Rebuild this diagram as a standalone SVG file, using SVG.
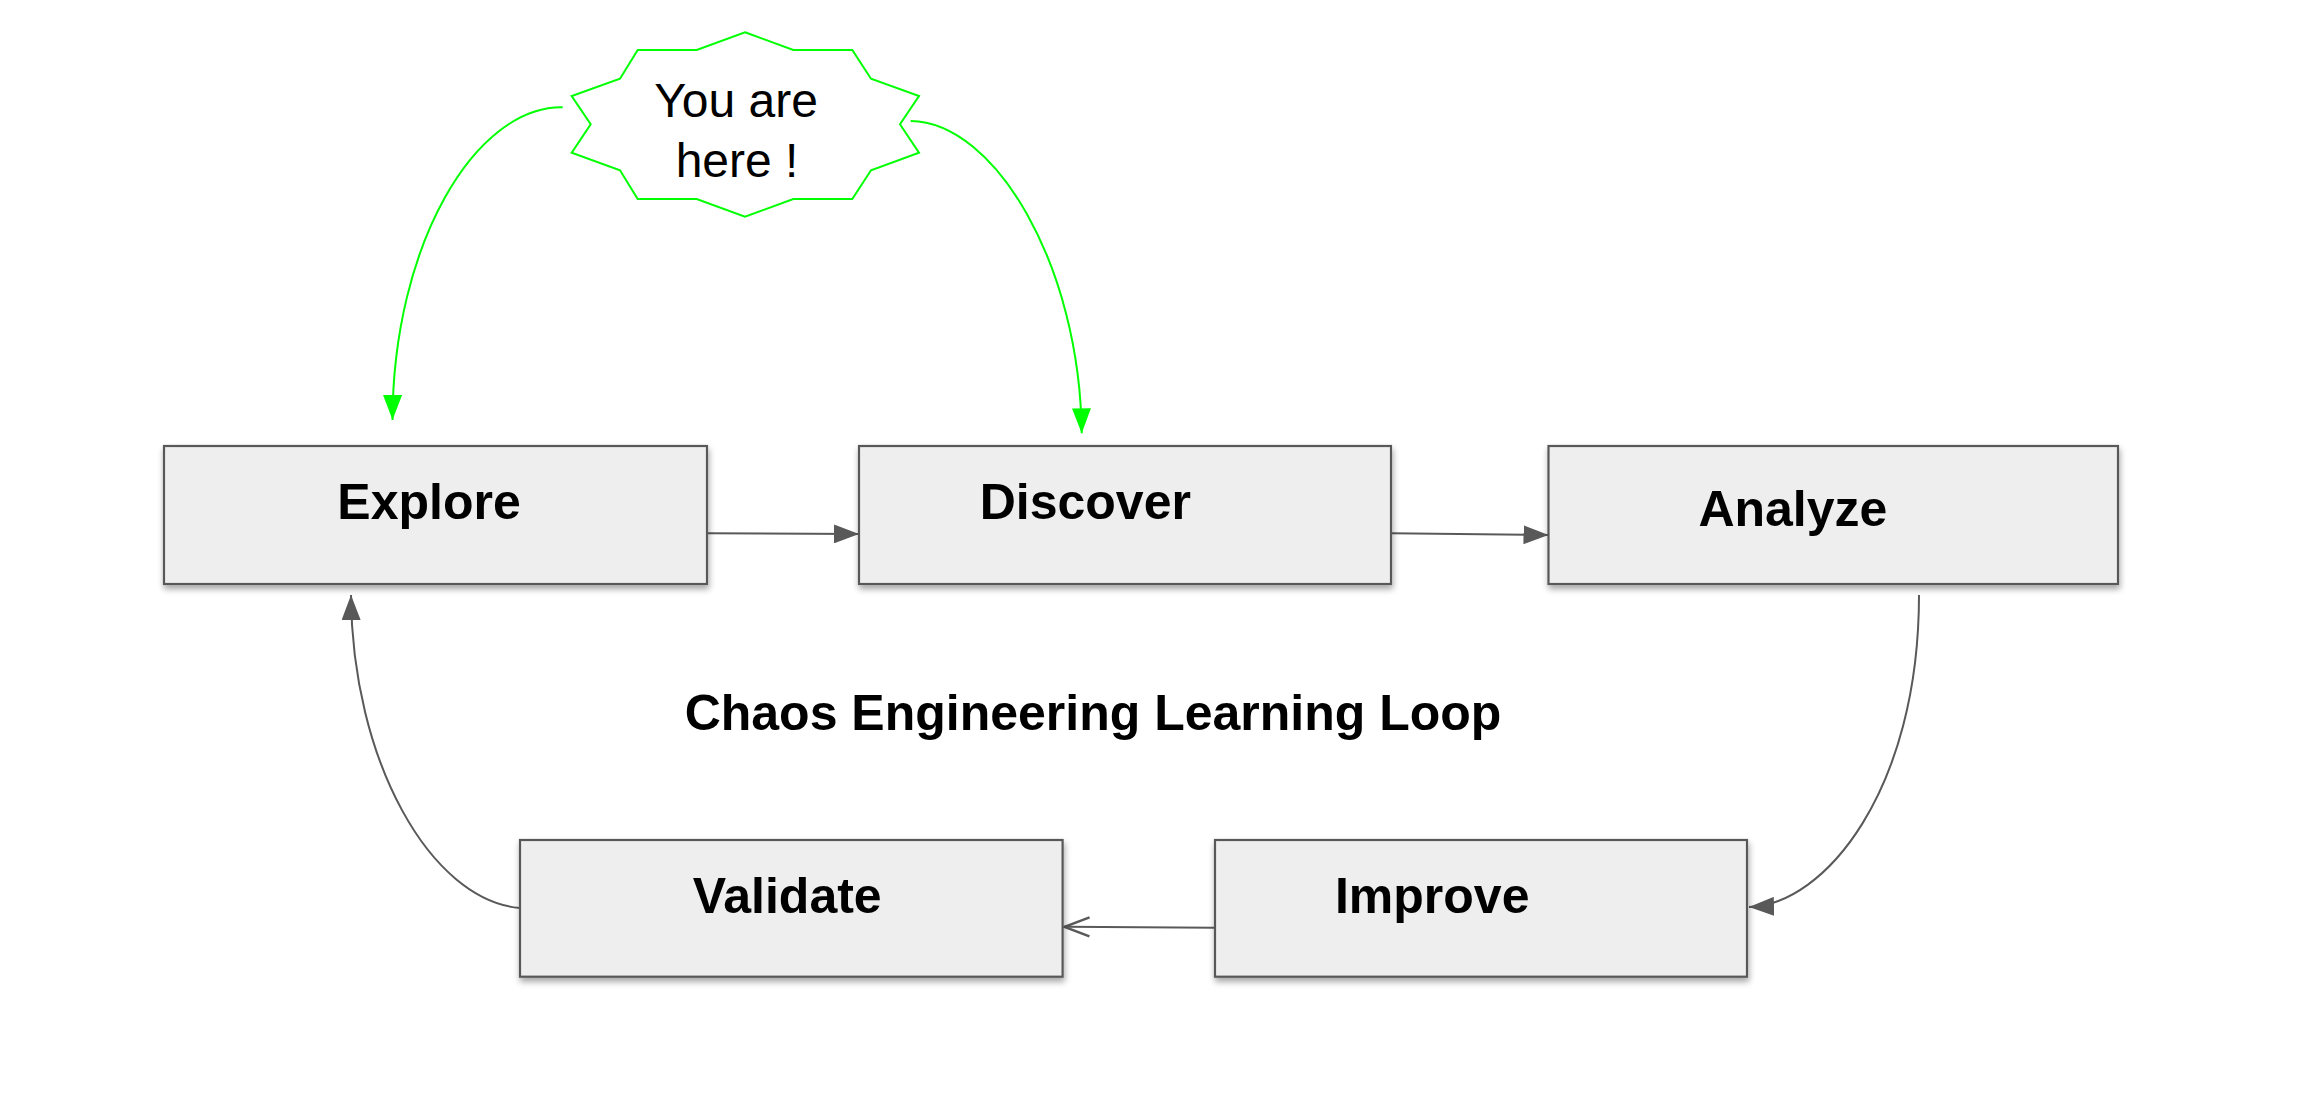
<svg xmlns="http://www.w3.org/2000/svg" width="2310" height="1109" viewBox="0 0 2310 1109">
  <style>
    .box { fill: #eeeeee; stroke: #595959; stroke-width: 2.2; filter: url(#shadow); }
    .label { font-family: "Liberation Sans", Arial, sans-serif; font-weight: bold; font-size: 50px; fill: #000000; text-anchor: middle; }
    .burst-text { font-family: "Liberation Sans", Arial, sans-serif; font-size: 48px; fill: #000000; text-anchor: middle; }
    .conn { fill: none; stroke: #595959; stroke-width: 2; }
    .green { fill: none; stroke: #00ff00; stroke-width: 2; }
  </style>
  <defs>
    <filter id="shadow" x="-5%" y="-10%" width="115%" height="130%">
      <feDropShadow dx="1" dy="4" stdDeviation="3" flood-color="#000000" flood-opacity="0.35"/>
    </filter>
    <marker id="arrowGray" viewBox="0 0 25 19" refX="25" refY="9.5" markerWidth="25" markerHeight="19" markerUnits="userSpaceOnUse" orient="auto">
      <path d="M0,0 L25,9.5 L0,19 Z" fill="#595959"/>
    </marker>
    <marker id="arrowOpen" viewBox="-2 -2 29 23" refX="25" refY="9.5" markerWidth="29" markerHeight="23" markerUnits="userSpaceOnUse" orient="auto">
      <path d="M0,0 L25,9.5 L0,19" fill="none" stroke="#595959" stroke-width="2.5"/>
    </marker>
    <marker id="arrowGreen" viewBox="0 0 25 19" refX="25" refY="9.5" markerWidth="25" markerHeight="19" markerUnits="userSpaceOnUse" orient="auto">
      <path d="M0,0 L25,9.5 L0,19 Z" fill="#00ff00"/>
    </marker>
  </defs>

  <rect width="2310" height="1109" fill="#ffffff"/>

  <g id="connectors">
    <path class="conn" d="M707,533.3 L859,534" marker-end="url(#arrowGray)"/>
    <path class="conn" d="M1391,533.3 L1548.5,535" marker-end="url(#arrowGray)"/>
    <path class="conn" d="M1919,595 C1919,790 1825,905 1749,907" marker-end="url(#arrowGray)"/>
    <path class="conn" d="M1215,927.7 L1064.5,926.8" marker-end="url(#arrowOpen)"/>
    <path class="conn" d="M520,908 C430,900 352,760 351,595" marker-end="url(#arrowGray)"/>
    <path class="green" d="M562.7,107.3 C475,106 393,245 392.5,420" marker-end="url(#arrowGreen)"/>
    <path class="green" d="M910.7,121 C995,122 1080,265 1081.7,433.3" marker-end="url(#arrowGreen)"/>
  </g>

  <g id="you-are-here">
    <polygon points="745,32.3 793.3,50 852.3,50 871,78.7 919,96 900,124.3 919,152.7 871,170.3 852.3,199 793.3,199 745,216.7 696.7,199 637.7,199 620,170.3 571.7,152.7 590.7,124.3 571.7,96 620,78.7 637.7,50 696.7,50" fill="#ffffff" stroke="#00ff00" stroke-width="2"/>
    <text class="burst-text" x="736" y="117.3">You are</text>
    <text class="burst-text" x="737" y="176.7">here !</text>
  </g>

  <g id="explore">
    <rect class="box" x="164" y="446" width="543" height="138"/>
    <text class="label" x="429" y="519">Explore</text>
  </g>

  <g id="discover">
    <rect class="box" x="859" y="446" width="532" height="138"/>
    <text class="label" x="1085.3" y="519.3">Discover</text>
  </g>

  <g id="analyze">
    <rect class="box" x="1548.5" y="446" width="569.5" height="138"/>
    <text class="label" x="1792.9" y="526">Analyze</text>
  </g>

  <g id="validate">
    <rect class="box" x="520" y="840" width="542.6" height="136.7"/>
    <text class="label" x="787.2" y="912.7">Validate</text>
  </g>

  <g id="improve">
    <rect class="box" x="1215" y="840" width="532" height="136.7"/>
    <text class="label" x="1432.2" y="912.7">Improve</text>
  </g>

  <g id="title">
    <text class="label" x="1093" y="730">Chaos Engineering Learning Loop</text>
  </g>
</svg>
